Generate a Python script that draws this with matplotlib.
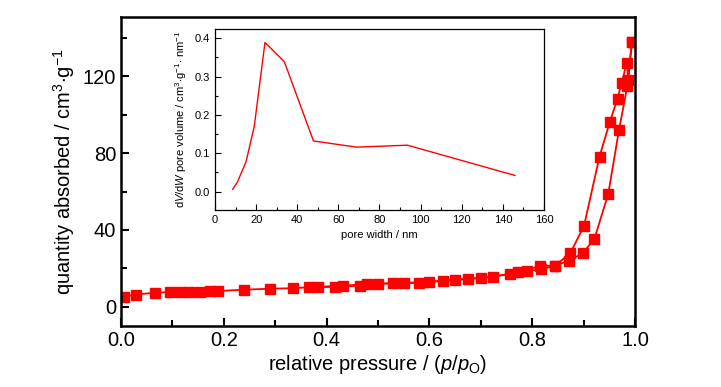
import matplotlib
matplotlib.use("Agg")
import matplotlib.pyplot as plt
from matplotlib.ticker import MultipleLocator

plt.rcParams['font.family'] = ['Liberation Sans', 'DejaVu Sans']
plt.rcParams['mathtext.fontset'] = 'custom'
plt.rcParams['mathtext.rm'] = 'Liberation Sans'
plt.rcParams['mathtext.it'] = 'Liberation Sans:italic'

# Adsorption branch (relative pressure, quantity adsorbed)
ads_p = [0.005, 0.029, 0.066, 0.095, 0.115, 0.133, 0.154, 0.173, 0.189, 0.239,
         0.289, 0.335, 0.384, 0.432, 0.478, 0.529, 0.580, 0.627, 0.676, 0.724,
         0.773, 0.815, 0.844, 0.872, 0.898, 0.921, 0.948, 0.969, 0.985, 0.994]
ads_q = [5.2, 6.4, 7.3, 7.7, 7.7, 7.8, 7.8, 8.0, 8.2, 8.9,
         9.4, 9.7, 10.4, 11.0, 11.8, 12.2, 12.5, 13.6, 14.6, 15.6,
         18.1, 21.2, 21.4, 24.0, 27.8, 35.3, 58.8, 92.2, 114.7, 137.7]

# Desorption branch
des_p = [0.994, 0.987, 0.984, 0.974, 0.966, 0.951, 0.931, 0.901, 0.874, 0.844,
         0.818, 0.789, 0.757, 0.700, 0.650, 0.600, 0.550, 0.500, 0.465, 0.416, 0.366]
des_q = [137.7, 118.2, 126.9, 116.5, 108.3, 96.2, 78.2, 42.3, 27.8, 21.4,
         19.5, 18.8, 17.0, 15.0, 14.0, 13.0, 12.5, 12.0, 11.0, 10.4, 10.1]

# Pore size distribution (inset)
pore_w = [8.6, 11.0, 15.1, 19.1, 24.3, 33.7, 47.9, 68.8, 93.6, 145.9]
pore_v = [0.006, 0.026, 0.078, 0.170, 0.389, 0.339, 0.132, 0.116, 0.121, 0.042]

fig = plt.figure(figsize=(7.21, 3.87), dpi=100)
ax = fig.add_axes([0.1678, 0.1576, 0.7129, 0.7992])
red = '#ff0000'
ax.plot(ads_p, ads_q, color=red, lw=1.3, marker='s', ms=7, mec=red, mfc=red)
ax.plot(des_p, des_q, color=red, lw=1.3, marker='s', ms=7, mec=red, mfc=red)
ax.set_xlim(0, 1.0)
ax.set_ylim(-10, 151)
ax.xaxis.set_major_locator(MultipleLocator(0.2))
ax.xaxis.set_minor_locator(MultipleLocator(0.1))
ax.yaxis.set_major_locator(MultipleLocator(40))
ax.yaxis.set_minor_locator(MultipleLocator(20))
ax.xaxis.set_major_formatter(plt.FuncFormatter(lambda v, p: f"{v:.1f}"))
ax.tick_params(which='both', direction='in', top=False, right=False, labelsize=14.5, width=1.5)
ax.tick_params(which='major', length=6)
ax.tick_params(which='minor', length=4)
for s in ax.spines.values():
    s.set_linewidth(1.8)
ax.set_xlabel(r"relative pressure / ($\it{p}$/$\it{p}_{\rm O}$)", fontsize=14.5, labelpad=2)
ax.set_ylabel(r"quantity absorbed / cm$^{3}$$\cdot$g$^{-1}$", fontsize=14.5, labelpad=4)

ins = fig.add_axes([0.2982, 0.4574, 0.4563, 0.4676])
ins.plot(pore_w, pore_v, color=red, lw=1.0)
ins.set_xlim(0, 160)
ins.set_ylim(-0.048, 0.424)
ins.xaxis.set_major_locator(MultipleLocator(20))
ins.xaxis.set_minor_locator(MultipleLocator(10))
ins.yaxis.set_major_locator(MultipleLocator(0.1))
ins.yaxis.set_minor_locator(MultipleLocator(0.05))
ins.yaxis.set_major_formatter(plt.FuncFormatter(lambda v, p: f"{v:.1f}"))
ins.tick_params(which='both', direction='in', top=False, right=False, labelsize=8, width=0.8)
ins.tick_params(which='major', length=4)
ins.tick_params(which='minor', length=2.5)
for s in ins.spines.values():
    s.set_linewidth(0.9)
ins.set_xlabel("pore width / nm", fontsize=8, labelpad=4)
ins.set_ylabel(r"d$\it{V}$/d$\it{W}$ pore volume / cm$^{3}$$\cdot$g$^{-1}$$\cdot$ nm$^{-1}$", fontsize=8, labelpad=4)

fig.savefig("out.png", dpi=100)
